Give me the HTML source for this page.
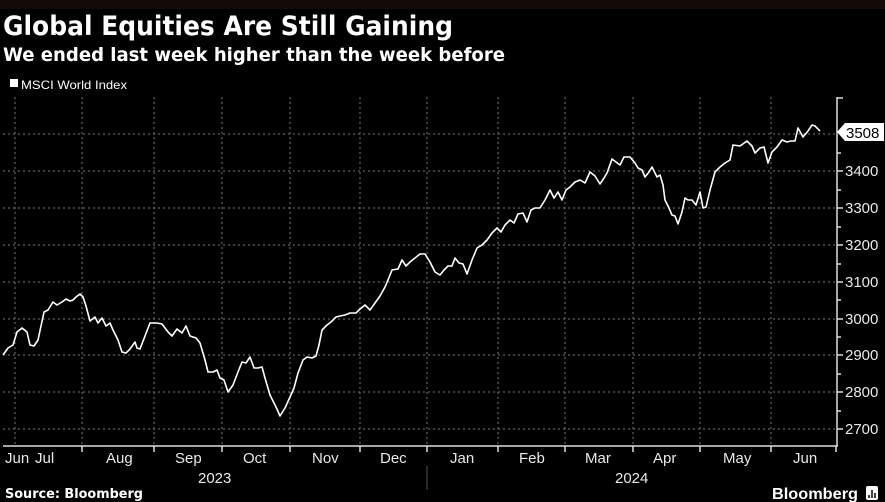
<!DOCTYPE html>
<html><head><meta charset="utf-8"><style>
html,body{margin:0;padding:0;background:#000;}
svg{display:block;}
text{font-family:"DejaVu Sans","Liberation Sans",sans-serif;fill:#fff;}
.ax{font-family:"Liberation Sans",sans-serif;font-size:15px;fill:#e8e8e8;}
</style></head><body>
<svg width="885" height="502" viewBox="0 0 885 502" xmlns="http://www.w3.org/2000/svg">
<rect width="885" height="502" fill="#000"/>
<rect width="885" height="9" fill="#140a08"/>
<text x="3" y="35" font-size="27" font-weight="bold" textLength="450" lengthAdjust="spacingAndGlyphs">Global Equities Are Still Gaining</text>
<text x="3" y="61" font-size="19" font-weight="bold" textLength="502" lengthAdjust="spacingAndGlyphs">We ended last week higher than the week before</text>
<rect x="10" y="79" width="8" height="8" fill="#fff"/>
<text x="21" y="89" font-size="12" textLength="106" lengthAdjust="spacingAndGlyphs" style="font-family:'Liberation Sans',sans-serif">MSCI World Index</text>
<g stroke="#777" stroke-width="1" stroke-dasharray="2,3">
<line x1="3" y1="134" x2="836" y2="134"/><line x1="3" y1="171" x2="836" y2="171"/><line x1="3" y1="208" x2="836" y2="208"/><line x1="3" y1="245" x2="836" y2="245"/><line x1="3" y1="282" x2="836" y2="282"/><line x1="3" y1="319" x2="836" y2="319"/><line x1="3" y1="355" x2="836" y2="355"/><line x1="3" y1="392" x2="836" y2="392"/><line x1="3" y1="429" x2="836" y2="429"/>
<line x1="15" y1="97" x2="15" y2="446"/><line x1="82" y1="97" x2="82" y2="446"/><line x1="154" y1="97" x2="154" y2="446"/><line x1="222" y1="97" x2="222" y2="446"/><line x1="290" y1="97" x2="290" y2="446"/><line x1="360" y1="97" x2="360" y2="446"/><line x1="427" y1="97" x2="427" y2="446"/><line x1="498" y1="97" x2="498" y2="446"/><line x1="565" y1="97" x2="565" y2="446"/><line x1="633" y1="97" x2="633" y2="446"/><line x1="700" y1="97" x2="700" y2="446"/><line x1="771" y1="97" x2="771" y2="446"/>
</g>
<g stroke="#ddd" stroke-width="1.5">
<line x1="3" y1="446" x2="838" y2="446"/><line x1="837" y1="97" x2="837" y2="446"/>
<line x1="837" y1="98" x2="843" y2="98"/>
<line x1="837" y1="153" x2="841" y2="153"/><line x1="837" y1="171" x2="843" y2="171"/><line x1="837" y1="190" x2="841" y2="190"/><line x1="837" y1="208" x2="843" y2="208"/><line x1="837" y1="227" x2="841" y2="227"/><line x1="837" y1="245" x2="843" y2="245"/><line x1="837" y1="264" x2="841" y2="264"/><line x1="837" y1="282" x2="843" y2="282"/><line x1="837" y1="300" x2="841" y2="300"/><line x1="837" y1="319" x2="843" y2="319"/><line x1="837" y1="337" x2="841" y2="337"/><line x1="837" y1="355" x2="843" y2="355"/><line x1="837" y1="374" x2="841" y2="374"/><line x1="837" y1="392" x2="843" y2="392"/><line x1="837" y1="411" x2="841" y2="411"/><line x1="837" y1="429" x2="843" y2="429"/>
<line x1="82" y1="446" x2="82" y2="452"/><line x1="154" y1="446" x2="154" y2="452"/><line x1="222" y1="446" x2="222" y2="452"/><line x1="290" y1="446" x2="290" y2="452"/><line x1="360" y1="446" x2="360" y2="452"/><line x1="427" y1="446" x2="427" y2="452"/><line x1="498" y1="446" x2="498" y2="452"/><line x1="565" y1="446" x2="565" y2="452"/><line x1="633" y1="446" x2="633" y2="452"/><line x1="700" y1="446" x2="700" y2="452"/><line x1="771" y1="446" x2="771" y2="452"/><line x1="836" y1="446" x2="836" y2="452"/>
</g>
<line x1="427" y1="466" x2="427" y2="490" stroke="#555"/>
<g class="ax">
<text class="ax" x="845" y="176">3400</text><text class="ax" x="845" y="213">3300</text><text class="ax" x="845" y="250">3200</text><text class="ax" x="845" y="287">3100</text><text class="ax" x="845" y="324">3000</text><text class="ax" x="845" y="360">2900</text><text class="ax" x="845" y="397">2800</text><text class="ax" x="845" y="434">2700</text>
<text class="ax" x="5" y="463">Jun</text><text class="ax" x="35" y="463">Jul</text><text class="ax" x="106" y="463">Aug</text><text class="ax" x="175" y="463">Sep</text><text class="ax" x="243" y="463">Oct</text><text class="ax" x="312" y="463">Nov</text><text class="ax" x="380" y="463">Dec</text><text class="ax" x="450" y="463">Jan</text><text class="ax" x="519" y="463">Feb</text><text class="ax" x="585" y="463">Mar</text><text class="ax" x="653" y="463">Apr</text><text class="ax" x="723" y="463">May</text><text class="ax" x="793" y="463">Jun</text>
<text class="ax" x="198" y="483">2023</text><text class="ax" x="615" y="483">2024</text>
</g>
<path d="M837 132 L845 123 L884 123 L884 141 L845 141 Z" fill="#fff"/>
<text x="846" y="138" style="font-family:'Liberation Sans',sans-serif;font-size:15px;fill:#000">3508</text>
<polyline fill="none" stroke="#fff" stroke-width="1.6" stroke-linejoin="round" points="3,355 8,348 13,345 17,332 22,328 27,332 30,345 34,346 38,340 44,312 48,310 53,302 57,305 62,302 66,299 70,301 73,300 76,297 80,294 83,297 86,306 90,321 95,317 98,323 102,318 106,326 110,323 113,330 118,340 122,352 126,353 130,349 135,342 137,348 140,349 145,336 150,323 157,323 162,324 168,332 172,336 177,329 182,333 186,326 190,336 196,338 200,343 205,360 208,372 213,372 217,370 220,378 224,380 228,392 233,385 238,372 242,362 246,363 250,357 254,368 258,368 262,367 265,378 270,395 276,407 280,416 285,408 290,397 294,388 298,373 303,360 307,357 312,358 316,356 319,345 322,330 327,325 331,322 336,317 340,316 345,315 350,313 356,313 360,309 365,305 370,310 375,303 380,296 385,287 388,280 392,270 398,269 402,260 406,266 410,262 415,258 420,254 425,254 430,262 435,272 440,275 444,270 448,266 452,266 455,258 459,263 463,264 467,274 472,260 477,248 482,245 487,240 492,233 497,228 501,232 505,225 510,220 514,223 518,214 523,213 527,222 531,210 535,208 540,208 545,200 550,190 554,198 558,192 562,200 566,190 570,187 575,182 580,180 585,183 590,172 595,176 600,184 604,178 607,173 612,159 620,165 624,157 630,157 635,163 638,168 642,170 645,177 649,172 652,167 657,177 660,175 663,185 665,200 669,208 672,215 675,216 678,224 682,212 685,198 688,200 692,200 696,205 700,192 703,208 706,207 710,190 715,172 720,167 725,163 730,160 733,145 740,146 747,141 752,146 755,153 760,148 764,147 768,163 772,152 777,147 782,140 787,142 791,141 795,141 798,128 803,137 808,131 812,125 815,126 820,131"/>
<text x="5" y="498" font-size="13" font-weight="bold" textLength="138" lengthAdjust="spacingAndGlyphs">Source: Bloomberg</text>
<text x="772" y="499" font-size="16" font-weight="bold" textLength="86" lengthAdjust="spacingAndGlyphs" style="font-family:'Liberation Sans',sans-serif">Bloomberg</text>
<rect x="866" y="486" width="12" height="14" rx="2" fill="#fff"/>
<g stroke="#000" stroke-width="1.5"><line x1="869" y1="495" x2="869" y2="498"/><line x1="872" y1="490" x2="872" y2="498"/><line x1="875" y1="493" x2="875" y2="498"/></g>
</svg>
</body></html>
